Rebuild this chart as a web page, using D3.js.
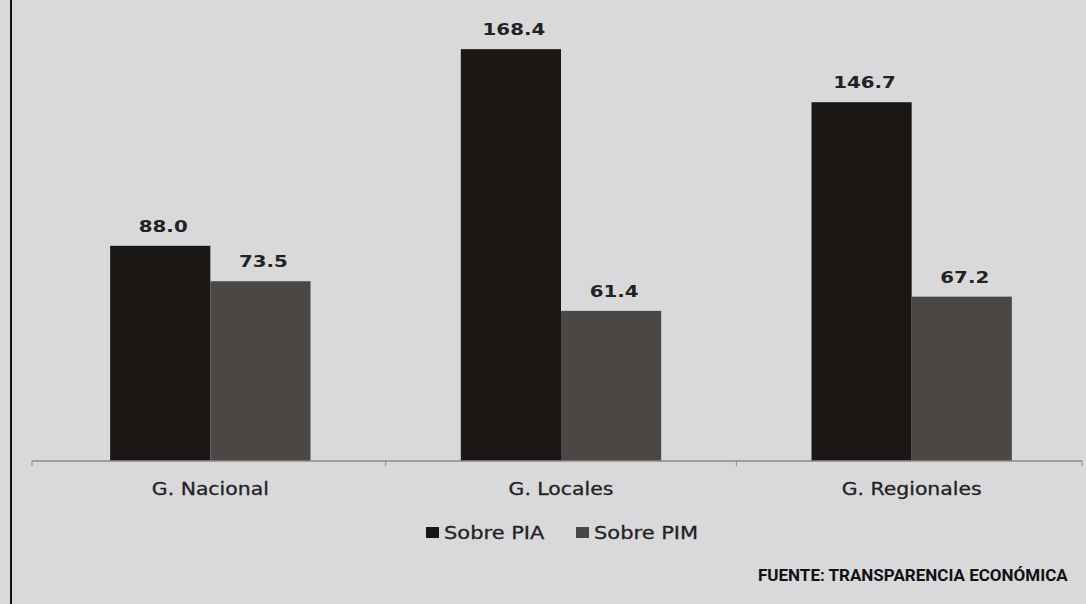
<!DOCTYPE html>
<html>
<head>
<meta charset="utf-8">
<script src="https://cdn.jsdelivr.net/npm/d3@7"></script>
<style>
  body { margin: 0; background: #d9d9dc; }
  svg { display: block; }
</style>
</head>
<body>
<svg id="chart"></svg>
<script>
const categories = ['G. Nacional', 'G. Locales', 'G. Regionales'];
const series = ['Sobre PIA', 'Sobre PIM'];
const sobrePIA = [88.0, 168.4, 146.7];
const sobrePIM = [73.5, 61.4, 67.2];
const colors = ['#1b1715', '#4b4745'];

const width = 1086;
const height = 604;
const baseY = 461;
// the printed chart is a bit wider than tall, text is stretched
const stretch = 'scale(1.2,1)';

const svg = d3.select('#chart')
  .attr('width', width)
  .attr('height', height)
  .attr('font-family', '"DejaVu Sans", sans-serif');

svg.append('rect')
  .attr('width', width).attr('height', height)
  .attr('fill', '#d9d9dc');

// left border from the page layout
svg.append('line')
  .attr('x1', 11).attr('x2', 11)
  .attr('y1', 0).attr('y2', height)
  .attr('stroke', '#111').attr('stroke-width', 2);

const x = d3.scaleBand()
  .domain(categories)
  .range([35, 1087]);

const x1 = d3.scaleBand()
  .domain(series)
  .range([0, x.bandwidth()])
  .paddingOuter(0.75)
  .paddingInner(0);

const y = d3.scaleLinear()
  .domain([0, 188.5])
  .range([baseY, 0]);

const rows = categories.map((c, i) => ({ cat: c, values: [sobrePIA[i], sobrePIM[i]] }));

const group = svg.append('g')
  .selectAll('g')
  .data(rows)
  .join('g')
  .attr('transform', d => `translate(${x(d.cat)},0)`);

group.selectAll('rect')
  .data(d => d.values.map((v, j) => ({ key: series[j], v, j })))
  .join('rect')
  .attr('x', d => x1(d.key))
  .attr('y', d => y(d.v))
  .attr('width', x1.bandwidth())
  .attr('height', d => baseY - y(d.v))
  .attr('fill', d => colors[d.j]);

group.selectAll('g.val')
  .data(d => d.values.map((v, j) => ({ key: series[j], v })))
  .join('g')
  .attr('class', 'val')
  .attr('transform', d => `translate(${x1(d.key) + x1.bandwidth() / 2 + 3},${y(d.v) - 14})`)
  .append('text')
  .attr('transform', stretch)
  .attr('text-anchor', 'middle')
  .attr('font-weight', 'bold')
  .attr('font-size', 16.5)
  .attr('fill', '#222')
  .text(d => d.v.toFixed(1));

// category axis
const axis = svg.append('g')
  .attr('transform', `translate(0,${baseY})`)
  .call(d3.axisBottom(x).tickSize(0).tickPadding(22));
axis.select('.domain')
  .attr('d', `M32,0H1082`)
  .attr('stroke', '#8a8a8c').attr('stroke-width', 1.5);
axis.selectAll('text')
  .attr('transform', stretch)
  .attr('font-size', 17)
  .attr('font-family', '"DejaVu Sans", sans-serif')
  .attr('fill', '#222')
  .attr('stroke', '#222')
  .attr('stroke-width', 0.3);

// band boundary ticks
axis.selectAll('line.sep')
  .data([32, x(categories[1]), x(categories[2]), 1082])
  .join('line')
  .attr('class', 'sep')
  .attr('x1', d => d).attr('x2', d => d)
  .attr('y1', 0).attr('y2', 5)
  .attr('stroke', '#8a8a8c');

// legend
const legendX = [426, 576];
const legend = svg.append('g')
  .selectAll('g')
  .data(series)
  .join('g')
  .attr('transform', (d, i) => `translate(${legendX[i]},533)`);
legend.append('rect')
  .attr('x', 0).attr('y', -6)
  .attr('width', 13).attr('height', 11)
  .attr('fill', (d, i) => colors[i]);
legend.append('g')
  .attr('transform', 'translate(18,6)')
  .append('text')
  .attr('transform', stretch)
  .attr('font-size', 17.5)
  .attr('fill', '#222')
  .attr('stroke', '#222')
  .attr('stroke-width', 0.3)
  .text(d => d);

svg.append('text')
  .attr('x', 758).attr('y', 581)
  .attr('font-family', 'Roboto, sans-serif')
  .attr('font-weight', 'bold')
  .attr('font-size', 17)
  .attr('fill', '#111')
  .text('FUENTE: TRANSPARENCIA ECONÓMICA');
</script>
</body>
</html>
